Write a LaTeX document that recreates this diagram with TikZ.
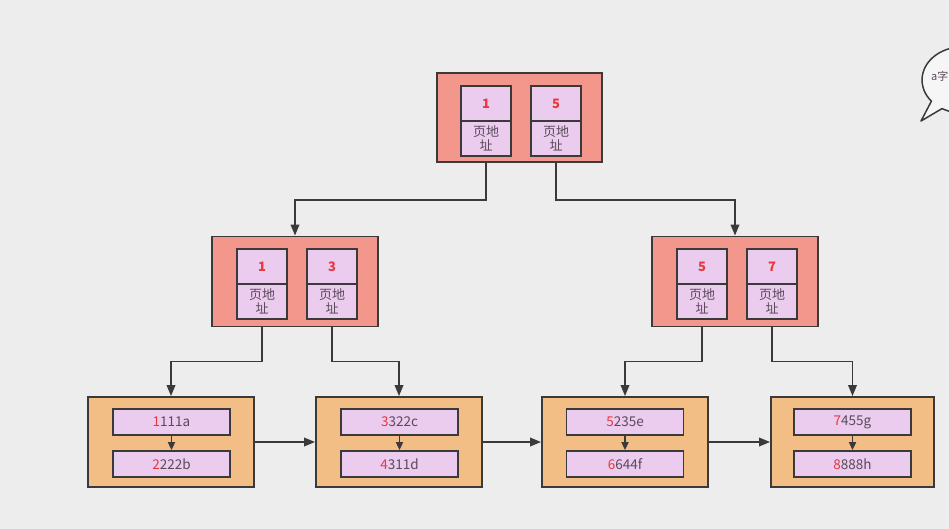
\documentclass[tikz,border=0pt]{standalone}
\usepackage{fontspec}
\setmainfont{Noto Sans CJK SC}
\usetikzlibrary{arrows.meta}
\definecolor{bg}{HTML}{EDEDED}
\definecolor{salmon}{HTML}{F3978D}
\definecolor{cellpink}{HTML}{EBCBEE}
\definecolor{leaforange}{HTML}{F2BE85}
\definecolor{edge}{HTML}{3A3A3A}
\definecolor{numred}{HTML}{E8383D}
\definecolor{txtgray}{HTML}{5A4A5A}
\tikzset{
  pagebox/.style={draw=edge, fill=salmon, line width=1.8pt, inner sep=0pt, minimum width=166pt, minimum height=90pt},
  leafbox/.style={draw=edge, fill=leaforange, line width=1.8pt, inner sep=0pt, minimum width=166pt, minimum height=90pt},
  keycell/.style={draw=edge, fill=cellpink, line width=1.8pt, inner sep=0pt, minimum width=50pt, minimum height=35pt,
    font=\fontsize{13}{14}\selectfont\bfseries, text=numred},
  addrcell/.style={draw=edge, fill=cellpink, line width=1.8pt, inner sep=0pt, minimum width=50pt, minimum height=35pt,
    font=\fontsize{13}{14.5}\selectfont, text=txtgray, align=center},
  rowcell/.style={draw=edge, fill=cellpink, line width=1.8pt, inner sep=0pt, minimum width=117pt, minimum height=26pt,
    font=\fontsize{13.5}{15}\selectfont, text=txtgray},
  arr/.style={draw=edge, line width=1.8pt, -{Triangle[length=11pt,width=8.5pt]}},
  smallarr/.style={draw=edge, line width=1.8pt, -{Triangle[length=8pt,width=7pt]}},
}
\newcommand{\rd}[1]{{\color{numred}#1}}
\begin{document}
\begin{tikzpicture}[x=1pt,y=-1pt]
\fill[bg] (0,0) rectangle (949,529);
\useasboundingbox (0,0) rectangle (949,529);

% root
\node[pagebox, minimum width=165pt, minimum height=89pt] (r) at (519.5,117.5) {};
\node[keycell] (r1t) at (486,103.5) {1};
\node[addrcell] (r1b) at (486,138.5) {页地\\址};
\node[keycell] (r2t) at (556,103.5) {5};
\node[addrcell] (r2b) at (556,138.5) {页地\\址};

% level 2 left
\node[pagebox] (L) at (295,281.5) {};
\node[keycell] (L1t) at (262,266.5) {1};
\node[addrcell] (L1b) at (262,301.5) {页地\\址};
\node[keycell] (L2t) at (332,266.5) {3};
\node[addrcell] (L2b) at (332,301.5) {页地\\址};

% level 2 right
\node[pagebox] (R) at (735,281.5) {};
\node[keycell] (R1t) at (702,266.5) {5};
\node[addrcell] (R1b) at (702,301.5) {页地\\址};
\node[keycell] (R2t) at (772,266.5) {7};
\node[addrcell] (R2b) at (772,301.5) {页地\\址};

% leaves
\node[leafbox] (f1) at (171,442) {};
\node[rowcell] (f1a) at (171.5,422) {\rd{1}111a};
\node[rowcell] (f1b) at (171.5,464) {\rd{2}222b};
\node[leafbox] (f2) at (399,442) {};
\node[rowcell] (f2a) at (399.5,422) {\rd{3}322c};
\node[rowcell] (f2b) at (399.5,464) {\rd{4}311d};
\node[leafbox] (f3) at (625,442) {};
\node[rowcell] (f3a) at (625,422) {\rd{5}235e};
\node[rowcell] (f3b) at (625,464) {\rd{6}644f};
\node[leafbox, minimum width=163pt] (f4) at (852.5,442) {};
\node[rowcell] (f4a) at (852.5,422) {\rd{7}455g};
\node[rowcell] (f4b) at (852.5,464) {\rd{8}888h};

% tree connectors
\draw[arr] (r.south -| r1b) -- ++(0,37) -| (L.north);
\draw[arr] (r.south -| r2b) -- ++(0,37) -| (R.north);
\draw[arr] (L.south -| L1b) -- ++(0,34) -| (f1.north);
\draw[arr] (L.south -| L2b) -- ++(0,34) -| (f2.north);
\draw[arr] (R.south -| R1b) -- ++(0,34) -| (f3.north);
\draw[arr] (R.south -| R2b) -- ++(0,34) -| (f4.north);

% leaf chain
\draw[arr] (f1.east) -- (f2.west);
\draw[arr] (f2.east) -- (f3.west);
\draw[arr] (f3.east) -- (f4.west);

% inner row links
\draw[smallarr] (f1a.south) -- (f1b.north);
\draw[smallarr] (f2a.south) -- (f2b.north);
\draw[smallarr] (f3a.south) -- (f3b.north);
\draw[smallarr] (f4a.south) -- (f4b.north);

% speech bubble (cut off at right edge)
\draw[edge, line width=1.5pt, fill=bg!50!white, line join=round]
  (942,108.6) -- (921,121) -- (931.4,101.2)
  arc[start angle=140, end angle=480, x radius=40, y radius=33];
\node[anchor=west, font=\fontsize{11}{12}\selectfont, text=txtgray, inner sep=0pt] (bub) at (931,76) {a字};
\end{tikzpicture}
\end{document}
